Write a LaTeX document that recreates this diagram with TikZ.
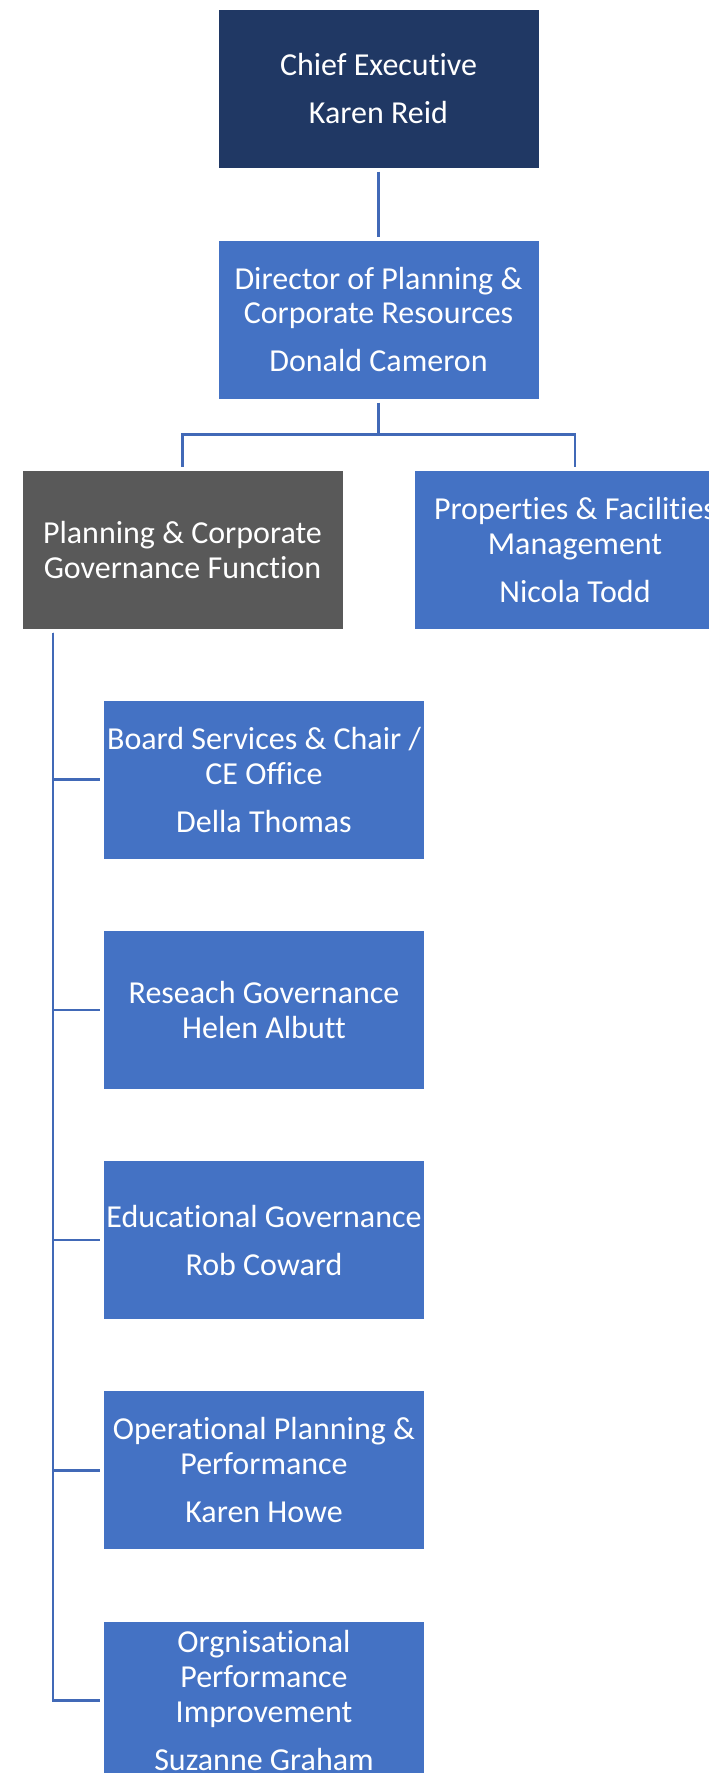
\documentclass[tikz,border=0pt]{standalone}
\usepackage{fontspec}
\setmainfont{Carlito}[Ligatures=NoCommon]
\usepackage{tikz}
\usetikzlibrary{calc}

\definecolor{navyfill}{HTML}{203864}
\definecolor{bluefill}{HTML}{4472C4}
\definecolor{greyfill}{HTML}{595959}
\definecolor{linkblue}{HTML}{4169B7}

\tikzset{
  unit/.style={rectangle, draw=white, line width=1pt, inner sep=0pt,
    minimum width=321pt, minimum height=159pt, text=white, align=center,
    font=\fontsize{32}{35}\selectfont},
  topunit/.style={unit, fill=navyfill},
  subunit/.style={unit, fill=bluefill},
  fnunit/.style={unit, fill=greyfill},
  link/.style={draw=linkblue, line width=2.5pt, shorten <=3pt, shorten >=3pt}
}

\begin{document}
\begin{tikzpicture}[x=1pt, y=-1pt]
        \useasboundingbox (0,0) rectangle (709,1773);
        \clip (0,0) rectangle (709,1773);
        % top of the chart
        \node[topunit] (chief) at (378.5,88.5) {Chief Executive\\[13pt]Karen Reid};
        \node[subunit] (director) at (378.5,319.5)
            {Director of Planning \&\\Corporate Resources\\[13pt]Donald Cameron};
        \node[fnunit] (function) at (182.5,549.5)
            {Planning \& Corporate\\Governance Function};
        \node[subunit] (estates) at (575,549.5)
            {Properties \& Facilities\\Management\\[13pt]Nicola Todd};
        % teams under the function
        \node[subunit] (board) at (264,779.5)
            {Board Services \& Chair /\\CE Office\\[13pt]Della Thomas};
        \node[subunit] (research) at (264,1009.8)
            {Reseach Governance\\Helen Albutt};
        \node[subunit] (education) at (264,1240)
            {Educational Governance\\[13pt]Rob Coward};
        \node[subunit] (operations) at (264,1470.3)
            {Operational Planning \&\\Performance\\[13pt]Karen Howe};
        \node[subunit] (improvement) at (264,1700.6)
            {Orgnisational\\Performance\\Improvement\\[13pt]Suzanne Graham};

        \draw[link] (chief.south) -- (director.north);
        \draw[link, shorten >=0pt] (director.south) -- ++(0,35) coordinate (split);
        \draw[link, shorten <=0pt] (split) -| (function.north);
        \draw[link, shorten <=0pt] (split) -| (estates.north);
        \coordinate (trunk) at ($(function.south west)+(31.5,0)$);
        \foreach \team in {board,research,education,operations,improvement}
        \draw[link] (trunk) |- (\team.west);
    \end{tikzpicture}
\end{document}
